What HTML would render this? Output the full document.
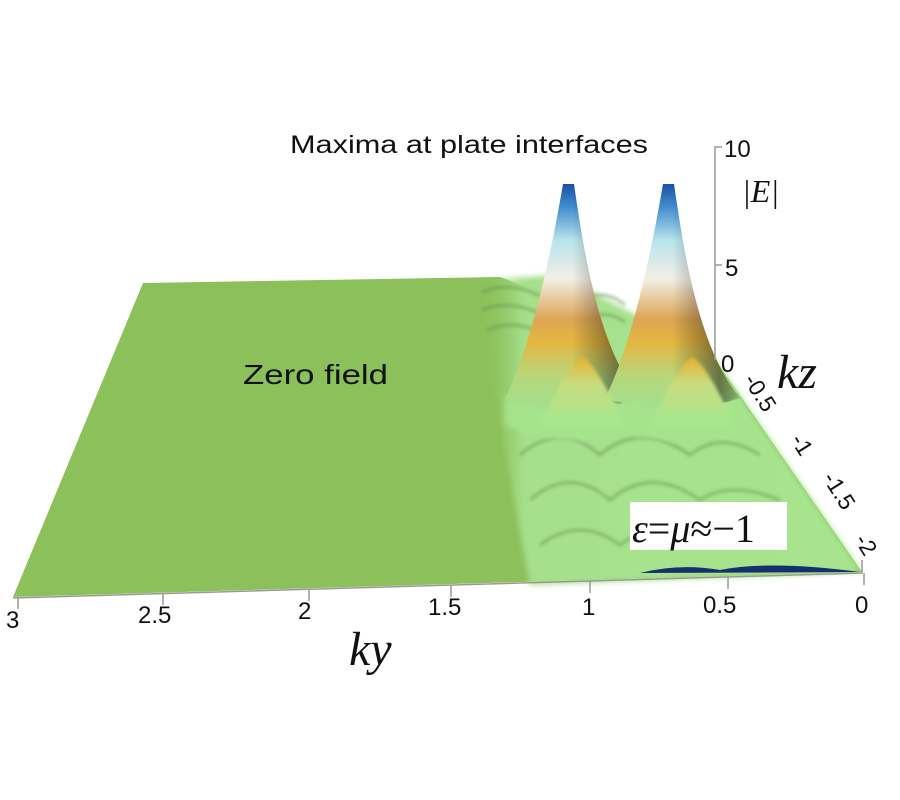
<!DOCTYPE html>
<html><head><meta charset="utf-8"><style>
html,body{margin:0;padding:0;background:#fff;width:900px;height:800px;overflow:hidden}
</style></head><body>
<svg width="900" height="800" viewBox="0 0 900 800" xmlns="http://www.w3.org/2000/svg">
<defs>
<linearGradient id="pk" x1="0" y1="0" x2="0" y2="1">
<stop offset="0" stop-color="#1d4fa8"/>
<stop offset="0.1" stop-color="#3f8ccc"/>
<stop offset="0.25" stop-color="#b8e4ec"/>
<stop offset="0.42" stop-color="#f2efe6"/>
<stop offset="0.6" stop-color="#dca555"/>
<stop offset="0.7" stop-color="#e4b640"/>
<stop offset="0.85" stop-color="#b8d67a"/>
<stop offset="1" stop-color="#a2e08c"/>
</linearGradient>
<linearGradient id="sh" x1="0" y1="0" x2="1" y2="0">
<stop offset="0" stop-color="#000" stop-opacity="0"/>
<stop offset="0.5" stop-color="#000" stop-opacity="0"/>
<stop offset="0.85" stop-color="#000" stop-opacity="0.45"/>
<stop offset="1" stop-color="#000" stop-opacity="0.2"/>
</linearGradient>
<linearGradient id="sm" x1="0" y1="0" x2="0" y2="1">
<stop offset="0" stop-color="#e8b030"/>
<stop offset="0.4" stop-color="#c8dc80"/>
<stop offset="1" stop-color="#a4e890"/>
</linearGradient>
<linearGradient id="fade" x1="0" y1="0" x2="1" y2="0">
<stop offset="0" stop-color="#8cc05a" stop-opacity="0"/>
<stop offset="0.12" stop-color="#a6e08c"/>
<stop offset="1" stop-color="#a8e48e"/>
</linearGradient>
<filter id="bl"><feGaussianBlur stdDeviation="3"/></filter>
<filter id="bl2"><feGaussianBlur stdDeviation="1.5"/></filter>
</defs>
<polygon points="143,283 500,277 712,355 862,572 13,597" fill="#8cc05a"/>
<polygon points="478,280 560,275 712,355 862,572 530,585 505,450" fill="url(#fade)" filter="url(#bl)"/>
<g fill="none" stroke="#5f8f48" stroke-width="3" opacity="0.5" filter="url(#bl2)">
<path d="M482,292 Q510,280 545,298"/>
<path d="M482,310 Q510,298 545,316"/>
<path d="M487,330 Q515,318 545,335"/>
<path d="M580,300 Q605,288 625,305"/>
<path d="M585,320 Q605,308 625,322"/>
<path d="M520,455 Q560,420 600,455 Q640,420 690,455 Q720,430 760,455"/>
<path d="M530,500 Q570,465 610,500 Q650,465 700,500 Q730,480 780,500"/>
<path d="M540,545 Q580,515 620,545 Q660,515 710,545"/>
</g>
<path d="M505,398 C530,350 550,260 563,184 L574,184 C585,260 600,350 640,398 Q575,420 505,398 Z" fill="url(#pk)"/>
<path d="M505,398 C530,350 550,260 563,184 L574,184 C585,260 600,350 640,398 Q575,420 505,398 Z" fill="url(#sh)"/>
<path d="M605,398 C630,350 650,260 663,184 L674,184 C685,260 700,350 740,398 Q675,420 605,398 Z" fill="url(#pk)"/>
<path d="M605,398 C630,350 650,260 663,184 L674,184 C685,260 700,350 740,398 Q675,420 605,398 Z" fill="url(#sh)"/>
<path d="M505,395 Q575,440 640,398 L640,425 Q575,455 505,425 Z" fill="#a6e48c" filter="url(#bl)"/>
<path d="M605,395 Q675,440 740,398 L740,425 Q675,455 605,425 Z" fill="#a6e48c" filter="url(#bl)"/>
<path d="M540,425 Q570,362 582,357 Q595,362 625,425 Z" fill="url(#sm)" filter="url(#bl2)"/>
<path d="M650,425 Q680,362 692,357 Q705,362 735,425 Z" fill="url(#sm)" filter="url(#bl2)"/>
<path d="M640,573 Q680,563 720,570 Q770,560 860,572 Z" fill="#14306e"/>
<g stroke="#999" stroke-width="1.5" fill="none">
<path d="M722,147 L715,147 L715,360"/>
<path d="M715,265 L722,265"/>
<path d="M13,598 L862,573 L862,560"/>
<path d="M18,597 v12 M163,593 v12 M309,589 v12 M451,585 v12 M590,581 v12 M728,577 v12 M864,573 v12"/>
</g>
<g font-family="Liberation Sans, sans-serif" font-size="24" fill="#111">
<text x="290" y="153" font-size="25" textLength="358" lengthAdjust="spacingAndGlyphs">Maxima at plate interfaces</text>
<text x="724" y="157">10</text>
<text x="725" y="276">5</text>
<text x="721" y="372">0</text>
<text x="243" y="384" font-size="28" textLength="145" lengthAdjust="spacingAndGlyphs">Zero field</text>
<text x="6" y="628">3</text>
<text x="138" y="623">2.5</text>
<text x="298" y="619">2</text>
<text x="428" y="615">1.5</text>
<text x="582" y="615">1</text>
<text x="703" y="613">0.5</text>
<text x="855" y="613">0</text>
<g font-size="23">
<text transform="translate(743,380) rotate(58)">-0.5</text>
<text transform="translate(790,440) rotate(58)">-1</text>
<text transform="translate(822,478) rotate(58)">-1.5</text>
<text transform="translate(854,540) rotate(58)">-2</text>
</g>
</g>
<g font-family="Liberation Serif, serif" font-style="italic" fill="#111">
<text x="349" y="665" font-size="48">ky</text>
<text x="777" y="388" font-size="48">kz</text>
<text x="742" y="202" font-size="32">|E|</text>
</g>
<rect x="630" y="502" width="157" height="48" fill="#fff"/>
<text x="632" y="542" font-family="Liberation Serif, serif" font-size="40" fill="#111"><tspan font-style="italic">ε</tspan>=<tspan font-style="italic">μ</tspan>≈−1</text>
</svg>
</body></html>
